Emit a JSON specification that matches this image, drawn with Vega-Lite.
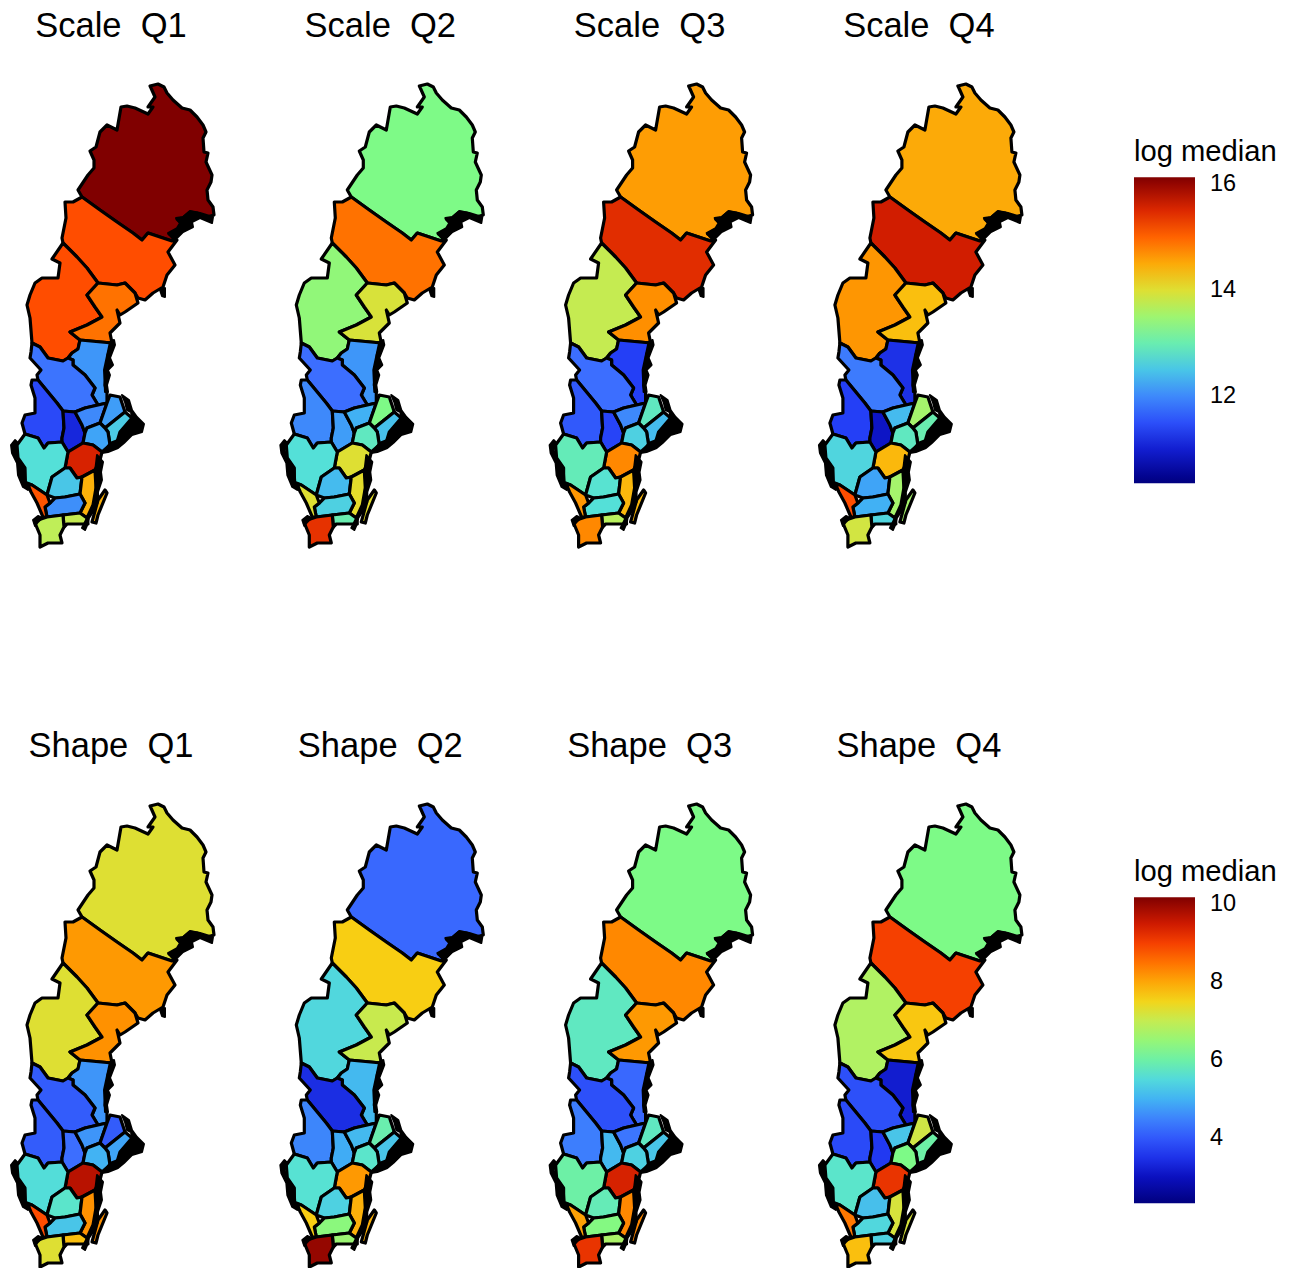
{
"$schema":"https://vega.github.io/schema/vega-lite/v6.json",
"padding":{"top":8,"left":0,"right":0,"bottom":0},
"background":"white",
"config":{"view":{"stroke":null},"font":"Liberation Sans","concat":{"spacing":0}},
"spacing":62,
"datasets":{
"regions":[
{"region":"Norrbotten","geometry":{"type":"Polygon","coordinates":[[[150,86],[158,84],[164,87],[167,93],[173,100],[182,108],[190,110],[197,117],[203,125],[206,132],[203,138],[204,152],[208,153],[206,162],[212,175],[211,182],[207,190],[208,200],[213,207],[214,215],[207,217],[197,213],[190,212],[183,218],[177,219],[183,225],[175,232],[169,234],[175,238],[172,241],[148,233],[142,240],[133,233],[117,222],[100,210],[82,197],[78,190],[88,175],[94,168],[94,160],[90,151],[96,147],[100,132],[107,125],[117,130],[121,107],[127,106],[135,108],[148,114],[153,107],[148,107],[155,97],[151,88],[150,86]]]}},
{"region":"Västerbotten","geometry":{"type":"Polygon","coordinates":[[[82,197],[100,210],[117,222],[133,233],[142,240],[148,233],[172,241],[177,240],[168,252],[175,265],[167,275],[163,287],[153,293],[145,300],[138,298],[135,293],[125,283],[117,285],[98,283],[87,268],[77,257],[63,243],[62,238],[66,218],[65,202],[73,202],[82,197]]]}},
{"region":"Jämtland","geometry":{"type":"Polygon","coordinates":[[[63,243],[77,257],[87,268],[98,283],[87,295],[95,307],[102,317],[87,325],[70,332],[80,340],[78,349],[72,353],[68,358],[63,361],[48,358],[40,347],[32,343],[30,318],[27,305],[30,295],[35,283],[42,278],[58,278],[60,263],[52,259],[63,243]]]}},
{"region":"Västernorrland","geometry":{"type":"Polygon","coordinates":[[[98,283],[117,285],[125,283],[135,293],[138,303],[125,312],[120,315],[117,310],[120,323],[110,333],[112,343],[80,340],[70,332],[87,325],[102,317],[95,307],[87,295],[98,283]]]}},
{"region":"Gävleborg","geometry":{"type":"Polygon","coordinates":[[[80,340],[112,343],[108,355],[107,368],[105,385],[107,393],[107,403],[98,405],[92,395],[95,388],[85,375],[73,365],[73,360],[68,358],[72,353],[78,349],[80,340]]]}},
{"region":"Dalarna","geometry":{"type":"Polygon","coordinates":[[[32,343],[40,347],[48,358],[63,361],[68,358],[73,360],[73,365],[85,375],[95,388],[92,395],[98,405],[85,408],[75,412],[63,411],[57,403],[38,380],[37,375],[41,370],[30,358],[31,352],[32,343]]]}},
{"region":"Värmland","geometry":{"type":"Polygon","coordinates":[[[32,380],[38,380],[57,403],[63,411],[64,428],[62,438],[62,442],[48,443],[44,448],[38,438],[25,434],[22,423],[25,415],[35,413],[35,398],[31,385],[32,380]]]}},
{"region":"Örebro","geometry":{"type":"Polygon","coordinates":[[[63,411],[75,412],[82,425],[85,433],[83,443],[68,452],[62,442],[62,438],[64,428],[63,411]]]}},
{"region":"Västmanland","geometry":{"type":"Polygon","coordinates":[[[75,412],[85,408],[98,405],[107,403],[100,423],[87,428],[85,433],[82,425],[75,412]]]}},
{"region":"Uppsala","geometry":{"type":"Polygon","coordinates":[[[110,395],[120,397],[125,412],[115,420],[105,428],[100,423],[107,403],[110,395]]]}},
{"region":"Stockholm","geometry":{"type":"Polygon","coordinates":[[[125,412],[132,418],[120,432],[117,442],[110,445],[108,432],[105,428],[115,420],[125,412]]]}},
{"region":"Södermanland","geometry":{"type":"Polygon","coordinates":[[[85,433],[87,428],[100,423],[105,428],[108,432],[110,445],[102,452],[93,445],[83,443],[85,433]]]}},
{"region":"Östergötland","geometry":{"type":"Polygon","coordinates":[[[68,452],[83,443],[93,445],[102,452],[100,460],[95,470],[82,477],[77,478],[70,468],[65,468],[68,452]]]}},
{"region":"Västra Götaland","geometry":{"type":"Polygon","coordinates":[[[17,445],[25,434],[38,438],[44,448],[48,443],[62,442],[68,452],[65,468],[52,477],[47,495],[32,485],[25,483],[25,468],[18,458],[17,445]]]}},
{"region":"Jönköping","geometry":{"type":"Polygon","coordinates":[[[65,468],[70,468],[77,478],[82,477],[80,494],[65,497],[55,498],[47,495],[52,477],[65,468]]]}},
{"region":"Kalmar","geometry":{"type":"MultiPolygon","coordinates":[[[[95,470],[96,488],[93,505],[87,518],[80,513],[85,503],[80,494],[82,477],[95,470]]],[[[105,490],[107,493],[98,515],[96,523],[92,522],[98,500],[105,490]]]]}},
{"region":"Kronoberg","geometry":{"type":"Polygon","coordinates":[[[45,507],[50,503],[55,498],[65,497],[80,494],[85,503],[80,513],[63,515],[47,517],[45,507]]]}},
{"region":"Halland","geometry":{"type":"Polygon","coordinates":[[[27,483],[32,485],[47,495],[50,503],[45,507],[47,517],[43,517],[37,503],[31,492],[27,483]]]}},
{"region":"Blekinge","geometry":{"type":"Polygon","coordinates":[[[63,515],[80,513],[87,518],[88,524],[80,524],[67,524],[64,527],[63,515]]]}},
{"region":"Skåne","geometry":{"type":"Polygon","coordinates":[[[38,520],[47,517],[63,515],[64,527],[60,535],[62,543],[48,543],[40,547],[40,535],[35,523],[38,520]]]}}
],
"coast":[
{"stretch":"Norrbotten","geometry":{"type":"Polygon","coordinates":[[[176,218],[183,217],[190,211],[200,213],[213,217],[212,223],[200,218],[192,222],[193,227],[183,232],[177,238],[172,238],[168,233],[177,228],[180,223],[176,218]]]}},
{"stretch":"Ångermanland","geometry":{"type":"Polygon","coordinates":[[[160,290],[165,288],[165,297],[162,296],[160,290]]]}},
{"stretch":"Hälsingland","geometry":{"type":"Polygon","coordinates":[[[110,342],[114,340],[115,345],[110,358],[113,365],[108,370],[110,375],[107,385],[108,392],[105,392],[104,370],[110,342]]]}},
{"stretch":"Roslagen","geometry":{"type":"Polygon","coordinates":[[[122,395],[129,400],[132,410],[137,417],[144,424],[142,432],[132,435],[124,443],[118,448],[108,452],[102,453],[105,450],[110,443],[118,440],[120,432],[132,420],[131,412],[127,410],[125,402],[122,395]]]}},
{"stretch":"Bohuslän","geometry":{"type":"Polygon","coordinates":[[[11,445],[15,440],[18,443],[15,450],[18,458],[25,468],[26,482],[30,485],[28,490],[23,487],[18,475],[17,463],[12,453],[11,445]]]}},
{"stretch":"Småland","geometry":{"type":"Polygon","coordinates":[[[97,455],[103,462],[101,472],[102,480],[98,492],[98,502],[93,512],[89,518],[88,523],[85,530],[82,528],[87,518],[92,510],[95,498],[96,482],[95,472],[97,455]]]}},
{"stretch":"Kullen","geometry":{"type":"Polygon","coordinates":[[[33,520],[38,516],[42,518],[38,522],[35,526],[33,520]]]}}
],
"scale":[
{"panel":"Scale  Q1","region":"Norrbotten","value":16.13},{"panel":"Scale  Q1","region":"Västerbotten","value":15.15},{"panel":"Scale  Q1","region":"Jämtland","value":15.15},{"panel":"Scale  Q1","region":"Västernorrland","value":14.9},{"panel":"Scale  Q1","region":"Gävleborg","value":12.1},{"panel":"Scale  Q1","region":"Dalarna","value":11.85},{"panel":"Scale  Q1","region":"Värmland","value":11.45},{"panel":"Scale  Q1","region":"Örebro","value":11.1},{"panel":"Scale  Q1","region":"Västmanland","value":12.0},{"panel":"Scale  Q1","region":"Uppsala","value":12.15},{"panel":"Scale  Q1","region":"Stockholm","value":12.55},{"panel":"Scale  Q1","region":"Södermanland","value":12.2},{"panel":"Scale  Q1","region":"Östergötland","value":15.55},{"panel":"Scale  Q1","region":"Västra Götaland","value":12.75},{"panel":"Scale  Q1","region":"Jönköping","value":12.5},{"panel":"Scale  Q1","region":"Kalmar","value":14.45},{"panel":"Scale  Q1","region":"Kronoberg","value":12.05},{"panel":"Scale  Q1","region":"Halland","value":15.1},{"panel":"Scale  Q1","region":"Blekinge","value":13.8},{"panel":"Scale  Q1","region":"Skåne","value":13.75},
{"panel":"Scale  Q2","region":"Norrbotten","value":13.25},{"panel":"Scale  Q2","region":"Västerbotten","value":14.9},{"panel":"Scale  Q2","region":"Jämtland","value":13.4},{"panel":"Scale  Q2","region":"Västernorrland","value":13.95},{"panel":"Scale  Q2","region":"Gävleborg","value":12.1},{"panel":"Scale  Q2","region":"Dalarna","value":11.8},{"panel":"Scale  Q2","region":"Värmland","value":12.0},{"panel":"Scale  Q2","region":"Örebro","value":12.15},{"panel":"Scale  Q2","region":"Västmanland","value":12.3},{"panel":"Scale  Q2","region":"Uppsala","value":13.25},{"panel":"Scale  Q2","region":"Stockholm","value":12.45},{"panel":"Scale  Q2","region":"Södermanland","value":12.9},{"panel":"Scale  Q2","region":"Östergötland","value":14.0},{"panel":"Scale  Q2","region":"Västra Götaland","value":12.75},{"panel":"Scale  Q2","region":"Jönköping","value":12.4},{"panel":"Scale  Q2","region":"Kalmar","value":14.05},{"panel":"Scale  Q2","region":"Kronoberg","value":12.6},{"panel":"Scale  Q2","region":"Halland","value":14.0},{"panel":"Scale  Q2","region":"Blekinge","value":13.0},{"panel":"Scale  Q2","region":"Skåne","value":15.4},
{"panel":"Scale  Q3","region":"Norrbotten","value":14.6},{"panel":"Scale  Q3","region":"Västerbotten","value":15.45},{"panel":"Scale  Q3","region":"Jämtland","value":13.8},{"panel":"Scale  Q3","region":"Västernorrland","value":14.7},{"panel":"Scale  Q3","region":"Gävleborg","value":11.35},{"panel":"Scale  Q3","region":"Dalarna","value":11.8},{"panel":"Scale  Q3","region":"Värmland","value":11.6},{"panel":"Scale  Q3","region":"Örebro","value":11.4},{"panel":"Scale  Q3","region":"Västmanland","value":12.0},{"panel":"Scale  Q3","region":"Uppsala","value":12.9},{"panel":"Scale  Q3","region":"Stockholm","value":12.4},{"panel":"Scale  Q3","region":"Södermanland","value":12.6},{"panel":"Scale  Q3","region":"Östergötland","value":14.75},{"panel":"Scale  Q3","region":"Västra Götaland","value":12.95},{"panel":"Scale  Q3","region":"Jönköping","value":12.8},{"panel":"Scale  Q3","region":"Kalmar","value":14.4},{"panel":"Scale  Q3","region":"Kronoberg","value":12.75},{"panel":"Scale  Q3","region":"Halland","value":14.65},{"panel":"Scale  Q3","region":"Blekinge","value":13.7},{"panel":"Scale  Q3","region":"Skåne","value":14.75},
{"panel":"Scale  Q4","region":"Norrbotten","value":14.5},{"panel":"Scale  Q4","region":"Västerbotten","value":15.6},{"panel":"Scale  Q4","region":"Jämtland","value":14.65},{"panel":"Scale  Q4","region":"Västernorrland","value":14.35},{"panel":"Scale  Q4","region":"Gävleborg","value":11.2},{"panel":"Scale  Q4","region":"Dalarna","value":11.9},{"panel":"Scale  Q4","region":"Värmland","value":11.35},{"panel":"Scale  Q4","region":"Örebro","value":10.9},{"panel":"Scale  Q4","region":"Västmanland","value":12.4},{"panel":"Scale  Q4","region":"Uppsala","value":13.55},{"panel":"Scale  Q4","region":"Stockholm","value":13.0},{"panel":"Scale  Q4","region":"Södermanland","value":12.9},{"panel":"Scale  Q4","region":"Östergötland","value":14.4},{"panel":"Scale  Q4","region":"Västra Götaland","value":12.65},{"panel":"Scale  Q4","region":"Jönköping","value":12.2},{"panel":"Scale  Q4","region":"Kalmar","value":13.55},{"panel":"Scale  Q4","region":"Kronoberg","value":12.3},{"panel":"Scale  Q4","region":"Halland","value":15.15},{"panel":"Scale  Q4","region":"Blekinge","value":12.65},{"panel":"Scale  Q4","region":"Skåne","value":13.9}
],
"shape":[
{"panel":"Shape  Q1","region":"Norrbotten","value":7.28},{"panel":"Shape  Q1","region":"Västerbotten","value":8.14},{"panel":"Shape  Q1","region":"Jämtland","value":7.28},{"panel":"Shape  Q1","region":"Västernorrland","value":8.22},{"panel":"Shape  Q1","region":"Gävleborg","value":4.69},{"panel":"Shape  Q1","region":"Dalarna","value":4.06},{"panel":"Shape  Q1","region":"Värmland","value":4.06},{"panel":"Shape  Q1","region":"Örebro","value":4.29},{"panel":"Shape  Q1","region":"Västmanland","value":4.69},{"panel":"Shape  Q1","region":"Uppsala","value":4.06},{"panel":"Shape  Q1","region":"Stockholm","value":4.84},{"panel":"Shape  Q1","region":"Södermanland","value":5.0},{"panel":"Shape  Q1","region":"Östergötland","value":9.7},{"panel":"Shape  Q1","region":"Västra Götaland","value":5.55},{"panel":"Shape  Q1","region":"Jönköping","value":5.7},{"panel":"Shape  Q1","region":"Kalmar","value":8.22},{"panel":"Shape  Q1","region":"Kronoberg","value":5.24},{"panel":"Shape  Q1","region":"Halland","value":8.85},{"panel":"Shape  Q1","region":"Blekinge","value":7.75},{"panel":"Shape  Q1","region":"Skåne","value":7.28},
{"panel":"Shape  Q2","region":"Norrbotten","value":4.21},{"panel":"Shape  Q2","region":"Västerbotten","value":7.6},{"panel":"Shape  Q2","region":"Jämtland","value":5.47},{"panel":"Shape  Q2","region":"Västernorrland","value":7.04},{"panel":"Shape  Q2","region":"Gävleborg","value":5.08},{"panel":"Shape  Q2","region":"Dalarna","value":3.43},{"panel":"Shape  Q2","region":"Värmland","value":4.53},{"panel":"Shape  Q2","region":"Örebro","value":4.92},{"panel":"Shape  Q2","region":"Västmanland","value":5.08},{"panel":"Shape  Q2","region":"Uppsala","value":5.94},{"panel":"Shape  Q2","region":"Stockholm","value":5.24},{"panel":"Shape  Q2","region":"Södermanland","value":5.7},{"panel":"Shape  Q2","region":"Östergötland","value":8.14},{"panel":"Shape  Q2","region":"Västra Götaland","value":5.63},{"panel":"Shape  Q2","region":"Jönköping","value":5.39},{"panel":"Shape  Q2","region":"Kalmar","value":7.9},{"panel":"Shape  Q2","region":"Kronoberg","value":6.4},{"panel":"Shape  Q2","region":"Halland","value":7.6},{"panel":"Shape  Q2","region":"Blekinge","value":6.57},{"panel":"Shape  Q2","region":"Skåne","value":10.0},
{"panel":"Shape  Q3","region":"Norrbotten","value":6.26},{"panel":"Shape  Q3","region":"Västerbotten","value":8.3},{"panel":"Shape  Q3","region":"Jämtland","value":5.78},{"panel":"Shape  Q3","region":"Västernorrland","value":8.14},{"panel":"Shape  Q3","region":"Gävleborg","value":4.21},{"panel":"Shape  Q3","region":"Dalarna","value":3.9},{"panel":"Shape  Q3","region":"Värmland","value":4.45},{"panel":"Shape  Q3","region":"Örebro","value":5.08},{"panel":"Shape  Q3","region":"Västmanland","value":4.37},{"panel":"Shape  Q3","region":"Uppsala","value":5.78},{"panel":"Shape  Q3","region":"Stockholm","value":5.24},{"panel":"Shape  Q3","region":"Södermanland","value":5.39},{"panel":"Shape  Q3","region":"Östergötland","value":9.4},{"panel":"Shape  Q3","region":"Västra Götaland","value":6.0},{"panel":"Shape  Q3","region":"Jönköping","value":5.86},{"panel":"Shape  Q3","region":"Kalmar","value":8.3},{"panel":"Shape  Q3","region":"Kronoberg","value":6.33},{"panel":"Shape  Q3","region":"Halland","value":8.06},{"panel":"Shape  Q3","region":"Blekinge","value":6.73},{"panel":"Shape  Q3","region":"Skåne","value":9.16},
{"panel":"Shape  Q4","region":"Norrbotten","value":6.26},{"panel":"Shape  Q4","region":"Västerbotten","value":9.0},{"panel":"Shape  Q4","region":"Jämtland","value":6.8},{"panel":"Shape  Q4","region":"Västernorrland","value":7.67},{"panel":"Shape  Q4","region":"Gävleborg","value":3.19},{"panel":"Shape  Q4","region":"Dalarna","value":3.9},{"panel":"Shape  Q4","region":"Värmland","value":3.82},{"panel":"Shape  Q4","region":"Örebro","value":3.59},{"panel":"Shape  Q4","region":"Västmanland","value":5.24},{"panel":"Shape  Q4","region":"Uppsala","value":7.12},{"panel":"Shape  Q4","region":"Stockholm","value":6.0},{"panel":"Shape  Q4","region":"Södermanland","value":6.26},{"panel":"Shape  Q4","region":"Östergötland","value":9.16},{"panel":"Shape  Q4","region":"Västra Götaland","value":5.7},{"panel":"Shape  Q4","region":"Jönköping","value":5.16},{"panel":"Shape  Q4","region":"Kalmar","value":7.2},{"panel":"Shape  Q4","region":"Kronoberg","value":5.47},{"panel":"Shape  Q4","region":"Halland","value":8.45},{"panel":"Shape  Q4","region":"Blekinge","value":5.39},{"panel":"Shape  Q4","region":"Skåne","value":7.75}
]
},
"vconcat":[
{
"data":{"name":"scale"},
"transform":[{"lookup":"region","from":{"data":{"name":"regions"},"key":"region","fields":["geometry"]}}],
"facet":{"column":{"field":"panel","type":"nominal","title":null,"header":{"labelFont":"Liberation Sans","labelFontSize":34.5,"labelColor":"black","labelPadding":12,"labelExpr":"replace(datum.label,'  ',' \u00a0')"}}},
"spacing":{"column":47.3},
"spec":{
"width":222,"height":610,
"layer":[
{"projection":{"type":"identity","scale":1,"translate":[0,-56]},"mark":{"type":"geoshape","stroke":"black","strokeWidth":3.2,"strokeJoin":"round"},
"encoding":{"shape":{"field":"geometry","type":"geojson"},
"color":{"field":"value","type":"quantitative","scale":{"domain":[10.36,16.13],"clamp":true,"interpolate":"rgb","range":["#00007f","#0a0fbe","#233cf5","#3c6eff","#40aff5","#55e1d7","#7dfa87","#bcf05c","#f8d214","#ff9100","#ff4a00","#cc1800","#800000"]},
"legend":{"title":"log median","values":[12,14,16],"orient":"none","legendX":1134,"legendY":82,"gradientLength":306,"gradientThickness":61,"gradientStrokeWidth":0,"titleFont":"Liberation Sans","titleFontSize":29.2,"titleFontWeight":"normal","titleColor":"black","titlePadding":10,"labelFont":"Liberation Sans","labelFontSize":23.5,"labelColor":"black","labelOffset":15}}}},
{"data":{"name":"coast"},"projection":{"type":"identity","scale":1,"translate":[0,-56]},"mark":{"type":"geoshape","fill":"black","stroke":"black","strokeWidth":2,"strokeJoin":"round"},"encoding":{"shape":{"field":"geometry","type":"geojson"}}}
]}
},
{
"data":{"name":"shape"},
"transform":[{"lookup":"region","from":{"data":{"name":"regions"},"key":"region","fields":["geometry"]}}],
"facet":{"column":{"field":"panel","type":"nominal","title":null,"header":{"labelFont":"Liberation Sans","labelFontSize":34.5,"labelColor":"black","labelPadding":12,"labelExpr":"replace(datum.label,'  ',' \u00a0')"}}},
"spacing":{"column":47.3},
"spec":{
"width":222,"height":500,
"layer":[
{"projection":{"type":"identity","scale":1,"translate":[0,-56]},"mark":{"type":"geoshape","stroke":"black","strokeWidth":3.2,"strokeJoin":"round"},
"encoding":{"shape":{"field":"geometry","type":"geojson"},
"color":{"field":"value","type":"quantitative","scale":{"domain":[2.33,10.18],"clamp":true,"interpolate":"rgb","range":["#00007f","#0a0fbe","#233cf5","#3c6eff","#40aff5","#55e1d7","#7dfa87","#bcf05c","#f8d214","#ff9100","#ff4a00","#cc1800","#800000"]},
"legend":{"title":"log median","values":[4,6,8,10],"orient":"none","legendX":1134,"legendY":82,"gradientLength":306,"gradientThickness":61,"gradientStrokeWidth":0,"titleFont":"Liberation Sans","titleFontSize":29.2,"titleFontWeight":"normal","titleColor":"black","titlePadding":10,"labelFont":"Liberation Sans","labelFontSize":23.5,"labelColor":"black","labelOffset":15}}}},
{"data":{"name":"coast"},"projection":{"type":"identity","scale":1,"translate":[0,-56]},"mark":{"type":"geoshape","fill":"black","stroke":"black","strokeWidth":2,"strokeJoin":"round"},"encoding":{"shape":{"field":"geometry","type":"geojson"}}}
]}
}
],
"resolve":{"scale":{"color":"independent"}}
}
